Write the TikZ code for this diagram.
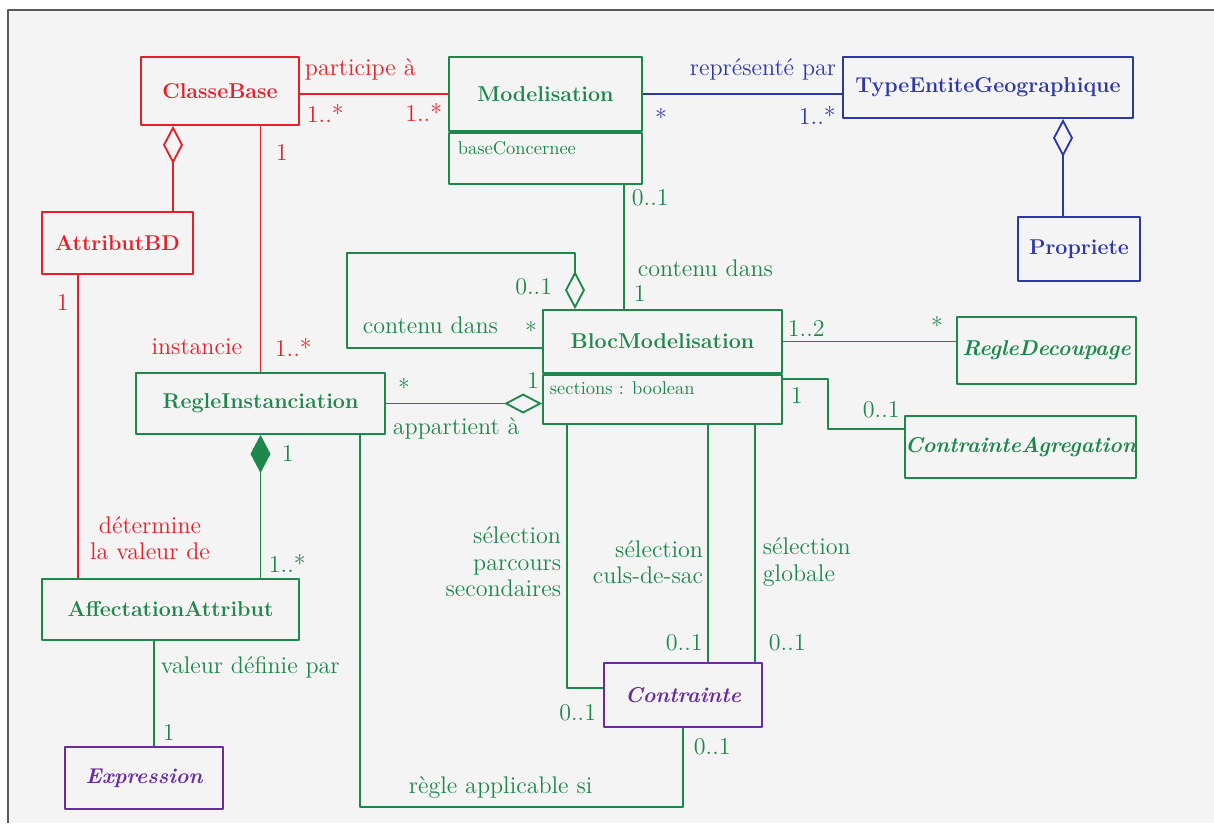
\documentclass[tikz,border=0pt]{standalone}
\usepackage{tikz}
\usetikzlibrary{arrows.meta,calc,shapes}
\definecolor{umlred}{RGB}{232,30,40}
\definecolor{umlgreen}{RGB}{30,135,75}
\definecolor{umlblue}{RGB}{45,55,170}
\definecolor{umlpurple}{RGB}{105,45,160}
\definecolor{bgcol}{RGB}{244,244,244}
\definecolor{framecol}{RGB}{90,90,90}

\begin{document}
\begin{tikzpicture}[x=0.02cm,y=-0.02cm,join=round,line width=1.05pt, % modele de regles
        classe/.style={draw,rectangle,inner sep=0pt,font=\fontsize{12.2}{14}\selectfont\bfseries},
        classabs/.style={classe,font=\fontsize{12.2}{14}\selectfont\bfseries\itshape},
        compart/.style={draw,rectangle,inner sep=0pt,anchor=north},
        attrtxt/.style={inner sep=0pt,font=\fontsize{10.5}{12}\selectfont},
        lbl/.style={inner sep=0pt,font=\fontsize{13.7}{15}\selectfont},
        aggr/.style={{Diamond[open,length=0.76cm,width=0.40cm]}-},
        aggrend/.style={-{Diamond[open,length=0.76cm,width=0.40cm]}},
        compo/.style={{Diamond[length=0.76cm,width=0.40cm]}-}]
        \useasboundingbox (0,0) rectangle (1214,823);
        \fill[white] (0,0) rectangle (1214,823);
        \fill[bgcol] (8,10) rectangle (1214,823);
        \draw[framecol,line width=1.1pt] (8,823) -- (8,10) -- (1214,10);

        % classes
        \node[classe,umlred,minimum width=3.16cm,minimum height=1.36cm] (cb) at (220,91) {ClasseBase};
        \node[classe,umlgreen,minimum width=3.86cm,minimum height=1.48cm] (mod) at (545.5,94) {Modelisation};
        \node[compart,umlgreen,minimum width=3.86cm,minimum height=1.02cm] (modattr) at (mod.south) {};
        \node[attrtxt,umlgreen,anchor=west] (modattrtxt) at (457,148) {baseConcernee};
        \node[classe,umlblue,minimum width=5.8cm,minimum height=1.22cm] (teg) at (988,87.5) {TypeEntiteGeographique};
        \node[classe,umlblue,minimum width=2.44cm,minimum height=1.28cm] (prop) at (1079,249) {Propriete};
        \node[classe,umlred,minimum width=3.02cm,minimum height=1.24cm] (abd) at (117.5,243) {AttributBD};
        \node[classe,umlgreen,minimum width=4.78cm,minimum height=1.26cm] (bloc) at (662.5,341.5) {BlocModelisation};
        \node[compart,umlgreen,minimum width=4.78cm,minimum height=0.98cm] (blocattr) at (bloc.south) {};
        \node[attrtxt,umlgreen,anchor=west] (blocattrtxt) at (549,388) {sections : boolean};
        \node[classabs,umlgreen,minimum width=3.58cm,minimum height=1.34cm] (rd) at (1046.5,350.5) {RegleDecoupage};
        \node[classabs,umlgreen,minimum width=4.58cm,minimum height=1.24cm] (ca) at (1020.5,447) {ContrainteAgregation};
        \node[classe,umlgreen,minimum width=4.98cm,minimum height=1.22cm] (ri) at (260.5,403.5) {RegleInstanciation};
        \node[classe,umlgreen,minimum width=5.14cm,minimum height=1.22cm] (aa) at (170.5,609.5) {AffectationAttribut};
        \node[classabs,umlpurple,minimum width=3.16cm,minimum height=1.24cm] (ex) at (144,778) {Expression};
        \node[classabs,umlpurple,minimum width=3.16cm,minimum height=1.28cm] (con) at (683,695) {Contrainte};

        % points d'attache
        \coordinate (cbdia) at ($(cb.south)+(-47,0)$);
        \coordinate (tegdia) at ($(teg.south)+(75,0)$);
        \coordinate (mbl) at ($(bloc.north)+(-38.5,0)$);
        \coordinate (loopa) at ($(bloc.west)+(0,6.5)$);
        \coordinate (loopb) at ($(bloc.north)+(-87.5,0)$);
        \coordinate (blocca) at ($(blocattr.north east)+(0,5)$);
        \coordinate (cap) at ($(ca.west)+(0,-18)$);
        \coordinate (selA) at ($(blocattr.south west)+(25,0)$);
        \coordinate (selB) at ($(blocattr.south west)+(166,0)$);
        \coordinate (selC) at ($(blocattr.south west)+(213,0)$);
        \coordinate (conw) at ($(con.west)+(0,-7)$);
        \coordinate (rip) at ($(ri.south)+(99.5,0)$);
        \coordinate (abdp) at ($(abd.south)+(-39.5,0)$);
        \coordinate (aap) at ($(aa.south)+(-16.5,0)$);

        % associations
        \draw[umlred] (mod.west -| cb.east) -- (mod.west);
        \draw[umlblue] (mod.east) -- (mod.east -| teg.west);
        \draw[umlblue,aggr] (tegdia) -- (tegdia |- prop.north);
        \draw[umlred,aggr] (cbdia) -- (cbdia |- abd.north);
        \draw[umlred] (ri.north |- cb.south) -- (ri.north);
        \draw[umlred] (abdp) -- (abdp |- aa.north);
        \draw[umlgreen] (mbl |- modattr.south) -- (mbl);
        \draw[umlgreen,aggrend] (loopa) -| ++(-195,-95) -| (loopb);
        \draw[umlgreen,aggrend] (ri.east) -- (ri.east -| bloc.west);
        \draw[umlgreen] (bloc.east) -- (bloc.east -| rd.west);
        \draw[umlgreen] (blocca) -| ($(cap)+(-76,0)$) -- (cap);
        \draw[umlgreen] (selA) |- (conw);
        \draw[umlgreen] (selB) -- (selB |- con.north);
        \draw[umlgreen] (selC) -- (selC |- con.north);
        \draw[umlgreen] (rip) -- ++(0,372) -| (con.south);
        \draw[umlgreen,compo] (ri.south) -- (ri.south |- aa.north);
        \draw[umlgreen] (aap) -- (aap |- ex.north);

        % roles et multiplicites
        \node[lbl,umlred,anchor=west] (lpart) at (304,69) {participe à};
        \node[lbl,umlred,anchor=west] (mcb1) at (306,113) {1..*};
        \node[lbl,umlred,anchor=east] (mmod1) at (443,112) {1..*};
        \node[lbl,umlblue,anchor=east] (lrep) at (837,69) {représenté par};
        \node[lbl,umlblue] (mmod2) at (661,117) {*};
        \node[lbl,umlblue,anchor=west] (mteg) at (798,115) {1..*};
        \node[lbl,umlred,anchor=west] (mcb2) at (275,152) {1};
        \node[lbl,umlred,anchor=west] (mabd) at (56,302) {1};
        \node[lbl,umlred,anchor=east] (linst) at (243,347) {instancie};
        \node[lbl,umlred,anchor=west] (mri1) at (274,347) {1..*};
        \node[lbl,umlgreen,anchor=west] (mmod3) at (631,198) {0..1};
        \node[lbl,umlgreen,anchor=west] (lcont1) at (637,268) {contenu dans};
        \node[lbl,umlgreen,anchor=west] (mbloc1) at (633,293) {1};
        \node[lbl,umlgreen,anchor=east] (mloop1) at (553,287) {0..1};
        \node[lbl,umlgreen,anchor=west] (lcont2) at (362,325) {contenu dans};
        \node[lbl,umlgreen] (mloop2) at (531,330) {*};
        \node[lbl,umlgreen,anchor=west] (mbloc2) at (787,328) {1..2};
        \node[lbl,umlgreen] (mrd) at (937,325) {*};
        \node[lbl,umlgreen] (mri2) at (404,387) {*};
        \node[lbl,umlgreen] (mbloc3) at (533,380) {1};
        \node[lbl,umlgreen,anchor=west] (mbloc4) at (790,395) {1};
        \node[lbl,umlgreen,anchor=west] (mca) at (862,410) {0..1};
        \node[lbl,umlgreen,anchor=west] (lapp) at (392,428) {appartient à};
        \node[lbl,umlgreen,anchor=west] (mri3) at (281,453) {1};
        \node[lbl,umlred,align=center] (ldet) at (150,538) {détermine\\la valeur de};
        \node[lbl,umlgreen,anchor=west] (maa1) at (268,563) {1..*};
        \node[lbl,umlgreen,anchor=east,align=right] (lsel1) at (562,562) {sélection\\parcours\\secondaires};
        \node[lbl,umlgreen,anchor=east,align=right] (lsel2) at (704,562) {sélection\\culs-de-sac};
        \node[lbl,umlgreen,anchor=west,align=left] (lsel3) at (762,562) {sélection\\globale};
        \node[lbl,umlgreen,anchor=west] (mcon1) at (665,643) {0..1};
        \node[lbl,umlgreen,anchor=west] (mcon2) at (768,643) {0..1};
        \node[lbl,umlgreen,anchor=east] (mcon3) at (597,713) {0..1};
        \node[lbl,umlgreen,anchor=west] (lval) at (160,667) {valeur définie par};
        \node[lbl,umlgreen,anchor=west] (mex) at (162,732) {1};
        \node[lbl,umlgreen,anchor=west] (mcon4) at (693,747) {0..1};
        \node[lbl,umlgreen,anchor=west] (lregle) at (408,788) {règle applicable si};
\end{tikzpicture}
\end{document}
